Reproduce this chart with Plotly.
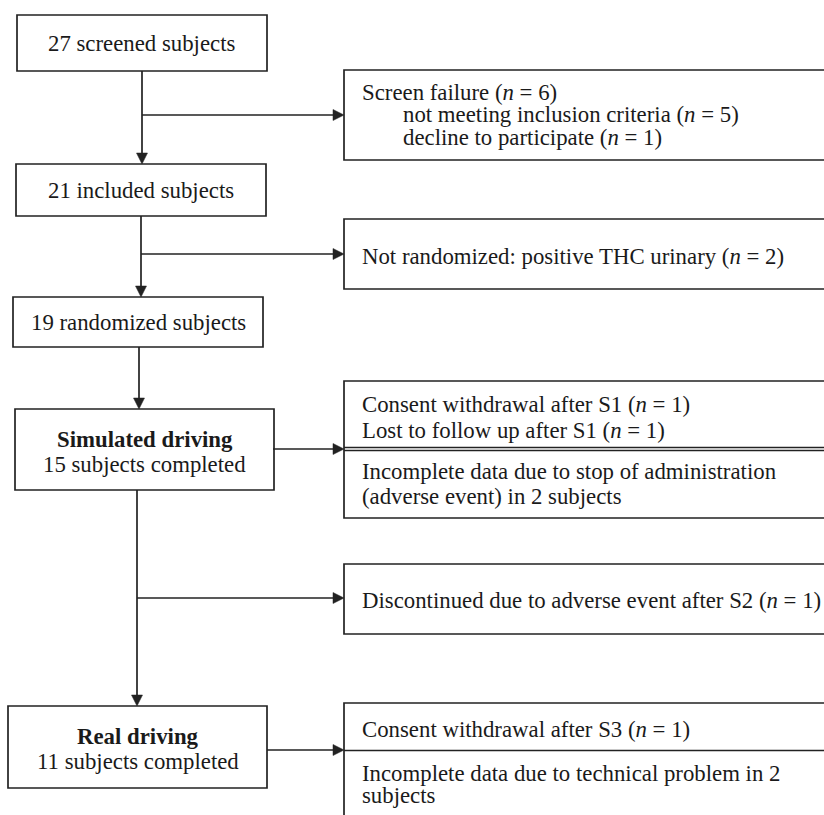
import plotly.graph_objects as go

# ---- content (text) ----
main_labels = [
    "27 screened subjects",
    "21 included subjects",
    "19 randomized subjects",
    "<b>Simulated driving</b><br>15 subjects completed",
    "<b>Real driving</b><br>11 subjects completed",
]
side_lines = [
    ["Screen failure (<i>n</i> = 6)",
     "not meeting inclusion criteria (<i>n</i> = 5)",
     "decline to participate (<i>n</i> = 1)"],
    ["Not randomized: positive THC urinary (<i>n</i> = 2)"],
    ["Consent withdrawal after S1 (<i>n</i> = 1)",
     "Lost to follow up after S1 (<i>n</i> = 1)",
     "Incomplete data due to stop of administration",
     "(adverse event) in 2 subjects"],
    ["Discontinued due to adverse event after S2 (<i>n</i> = 1)"],
    ["Consent withdrawal after S3 (<i>n</i> = 1)",
     "Incomplete data due to technical problem in 2",
     "subjects"],
]

# ---- layout geometry (page pixel coordinates) ----
W, H = 824, 815
main_boxes = [  # x0, x1, y0, y1
    (17, 267, 15, 71),
    (16, 266, 164, 216),
    (13, 263, 297, 347),
    (15, 274, 409, 490),
    (8, 267, 706, 788),
]
main_line_y = [[43], [190], [322], [439, 464], [736, 761]]
side_boxes = [  # x0, x1, y0, y1
    (344, 840, 70, 160),
    (344, 840, 219, 289),
    (344, 840, 381, 518),
    (344, 840, 564, 634),
    (344, 840, 703, 830),
]
side_line_y = [[92, 114, 137], [256], [404, 430, 471, 496], [600], [729, 773, 795]]
side_line_x = [[360, 401, 401], [360], [360, 360, 360, 360], [360], [360, 360, 360]]
side_dividers = [[], [], [447.5, 450.5], [], [750.5]]

vert_x = [142, 141, 139, 137]
branches = [(142, 115), (141, 254), (137, 598)]   # (x_start, y)
box_out = [(273, 449), (267, 750)]                # (x_start, y)
ARROW_X = 344

COLOR = "#222222"
LW = 1.7
FONT = dict(family="Liberation Serif, Times New Roman, serif", size=22.8, color="#1a1a1a")

fig = go.Figure()
shapes = []
annotations = []

def line(x0, y0, x1, y1, w=LW):
    shapes.append(dict(type="line", xref="x", yref="y", x0=x0, y0=y0, x1=x1, y1=y1,
                       line=dict(color=COLOR, width=w)))

def head(tx, ty, direction, L=11, Wd=5.5):
    if direction == "down":
        p = f"M {tx} {ty} L {tx-Wd} {ty-L} L {tx+Wd} {ty-L} Z"
    else:
        p = f"M {tx} {ty} L {tx-L} {ty-Wd} L {tx-L} {ty+Wd} Z"
    shapes.append(dict(type="path", xref="x", yref="y", path=p,
                       fillcolor=COLOR, line=dict(color=COLOR, width=0.5)))

for (x0, x1, y0, y1), ys, lab in zip(main_boxes, main_line_y, main_labels):
    shapes.append(dict(type="rect", xref="x", yref="y", x0=x0, x1=x1, y0=y0, y1=y1,
                       line=dict(color=COLOR, width=LW), fillcolor="white", layer="above"))
    parts = lab.split("<br>")
    for y, t in zip(ys, parts):
        annotations.append(dict(x=(x0 + x1) / 2, y=y, xref="x", yref="y", text=t,
                                showarrow=False, xanchor="center", yanchor="middle", font=FONT))

for (x0, x1, y0, y1), ys, xs, lines, divs in zip(side_boxes, side_line_y, side_line_x,
                                                  side_lines, side_dividers):
    shapes.append(dict(type="rect", xref="x", yref="y", x0=x0, x1=x1, y0=y0, y1=y1,
                       line=dict(color=COLOR, width=LW), fillcolor="white", layer="above"))
    for d in divs:
        line(x0, d, x1, d, w=1.3)
    for x, y, t in zip(xs, ys, lines):
        annotations.append(dict(x=x, y=y, xref="x", yref="y", text=t,
                                showarrow=False, xanchor="left", yanchor="middle", font=FONT))

# vertical connectors
for i, x in enumerate(vert_x):
    y_start = main_boxes[i][3]
    y_end = main_boxes[i + 1][2]
    line(x, y_start, x, y_end - 9)
    head(x, y_end, "down")

for x, y in branches + box_out:
    line(x, y, ARROW_X - 9, y)
    head(ARROW_X, y, "right")

fig.update_layout(
    width=W, height=H,
    margin=dict(l=0, r=0, t=0, b=0),
    paper_bgcolor="white", plot_bgcolor="white",
    xaxis=dict(range=[0, W], visible=False, fixedrange=True),
    yaxis=dict(range=[H, 0], visible=False, fixedrange=True),
    shapes=shapes, annotations=annotations,
    showlegend=False,
)
fig.write_html(
    "out.html",
    config={"displayModeBar": False, "staticPlot": True},
    post_script="document.body.style.margin='0';document.body.style.overflow='hidden';",
)
